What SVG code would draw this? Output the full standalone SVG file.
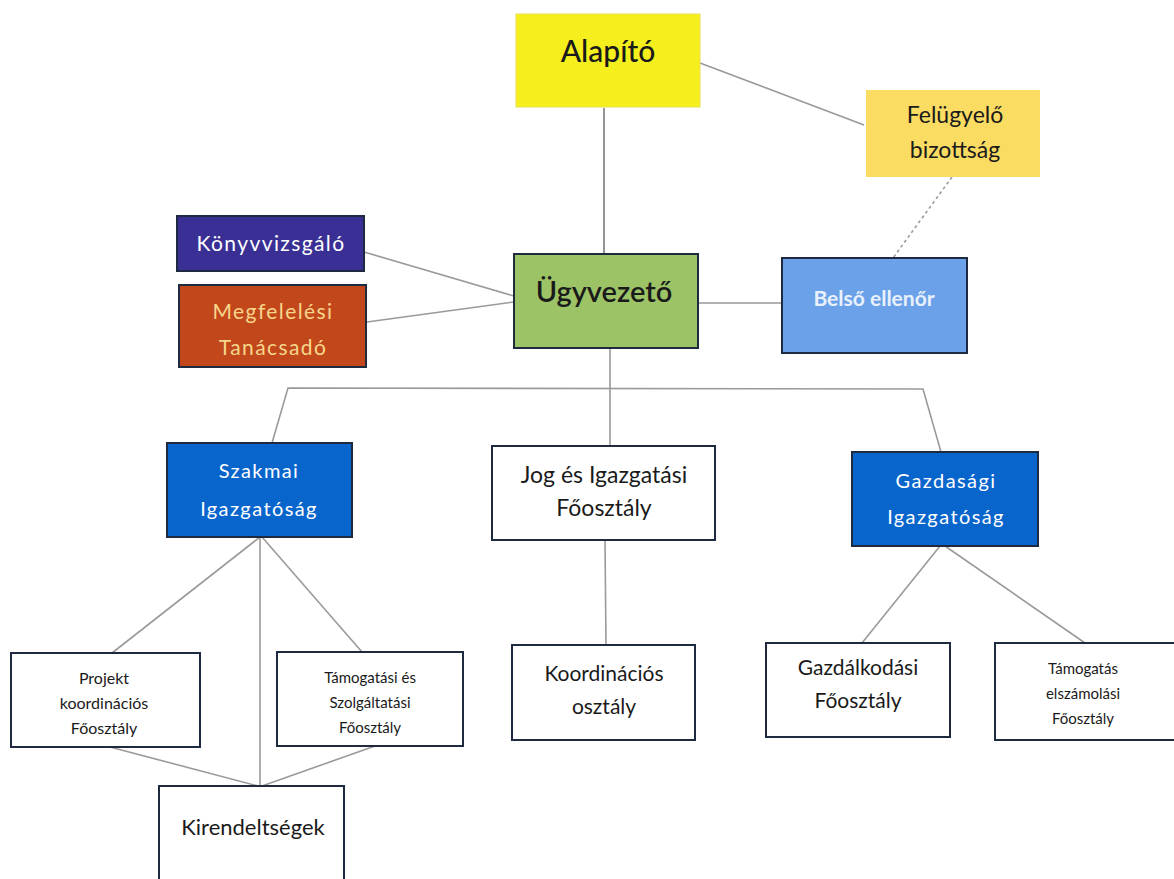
<svg xmlns="http://www.w3.org/2000/svg" width="1174" height="879" viewBox="0 0 1174 879">
<style>
  .ln{stroke:#9a9a9a;stroke-width:1.6;fill:none}
  .dk{stroke:#7a7a7a}
  .dot{stroke-dasharray:3 3}
  .box{stroke:#1e2a40;stroke-width:2}
  .wb{fill:#ffffff}
  .t{font-family:Lato,"Open Sans","Liberation Sans",sans-serif;text-anchor:middle;fill:#1a1a1a}
  .w{fill:#ffffff}
  .sp{letter-spacing:1.4px}
</style>
<rect width="1174" height="879" fill="#ffffff"/>
<g id="connectors">
  <line class="ln dk" x1="604" y1="108" x2="604" y2="254"/>
  <line class="ln" x1="700" y1="63" x2="864" y2="125"/>
  <line class="ln dot" x1="952" y1="177" x2="893" y2="258"/>
  <line class="ln" x1="364" y1="252" x2="514" y2="296"/>
  <line class="ln" x1="367" y1="322" x2="514" y2="302"/>
  <line class="ln" x1="698" y1="303" x2="782" y2="303"/>
  <line class="ln" x1="610" y1="348" x2="610" y2="446"/>
  <polyline class="ln" points="272,443 288,388 923,389 941,452"/>
  <line class="ln" x1="260" y1="537" x2="112" y2="653"/>
  <line class="ln" x1="260" y1="537" x2="260" y2="786"/>
  <line class="ln" x1="262" y1="537" x2="362" y2="652"/>
  <line class="ln" x1="110" y1="747" x2="258" y2="786"/>
  <line class="ln" x1="375" y1="746" x2="262" y2="786"/>
  <line class="ln" x1="605" y1="540" x2="606" y2="645"/>
  <line class="ln" x1="940" y1="546" x2="862" y2="643"/>
  <line class="ln" x1="945" y1="546" x2="1085" y2="643"/>
</g>
<g id="alapito">
  <rect x="516" y="14" width="184" height="93" fill="#f6ef1e" stroke="#e8e050" stroke-width="1"/>
  <text class="t" x="608" y="62" font-size="30" font-weight="500">Alapító</text>
</g>
<g id="felugyelo">
  <rect x="866" y="90" width="174" height="87" fill="#fbdc62"/>
  <text class="t" x="955" y="123" font-size="23">Felügyelő</text>
  <text class="t" x="955" y="158" font-size="23">bizottság</text>
</g>
<g id="konyvvizsgalo">
  <rect class="box" x="177" y="216" width="187" height="55" fill="#3a2f95"/>
  <text class="t w sp" x="271" y="251" font-size="21">Könyvvizsgáló</text>
</g>
<g id="megfelelesi">
  <rect class="box" x="179" y="285" width="187" height="82" fill="#c2481c"/>
  <text class="t sp" x="273" y="319" font-size="21" style="fill:#f7d68c">Megfelelési</text>
  <text class="t sp" x="273" y="355" font-size="21" style="fill:#f7d68c">Tanácsadó</text>
</g>
<g id="ugyvezeto">
  <rect class="box" x="514" y="254" width="184" height="94" fill="#9cc466"/>
  <text class="t" x="604" y="302" font-size="29" font-weight="600">Ügyvezető</text>
</g>
<g id="belso">
  <rect class="box" x="782" y="258" width="185" height="95" fill="#6aa1e8"/>
  <text class="t" x="874" y="306" font-size="21" font-weight="bold" style="fill:#e8f0fb">Belső ellenőr</text>
</g>
<g id="szakmai">
  <rect class="box" x="167" y="443" width="185" height="94" fill="#0865cc"/>
  <text class="t w sp" x="259" y="478" font-size="20">Szakmai</text>
  <text class="t w sp" x="259" y="516" font-size="20">Igazgatóság</text>
</g>
<g id="jog">
  <rect class="box wb" x="492" y="446" width="223" height="94"/>
  <text class="t" x="604" y="483" font-size="23">Jog és Igazgatási</text>
  <text class="t" x="604" y="516" font-size="23">Főosztály</text>
</g>
<g id="gazdasagi">
  <rect class="box" x="852" y="452" width="186" height="94" fill="#0865cc"/>
  <text class="t w sp" x="946" y="488" font-size="20">Gazdasági</text>
  <text class="t w sp" x="946" y="524" font-size="20">Igazgatóság</text>
</g>
<g id="projekt">
  <rect class="box wb" x="11" y="653" width="189" height="94"/>
  <text class="t" x="104" y="684" font-size="16">Projekt</text>
  <text class="t" x="104" y="709" font-size="16">koordinációs</text>
  <text class="t" x="104" y="734" font-size="16">Főosztály</text>
</g>
<g id="tamogatasi">
  <rect class="box wb" x="277" y="652" width="186" height="94"/>
  <text class="t" x="370" y="683" font-size="15">Támogatási és</text>
  <text class="t" x="370" y="708" font-size="15">Szolgáltatási</text>
  <text class="t" x="370" y="733" font-size="15">Főosztály</text>
</g>
<g id="kirendeltsegek">
  <rect class="box wb" x="159" y="786" width="185" height="100"/>
  <text class="t" x="253" y="835" font-size="22">Kirendeltségek</text>
</g>
<g id="koordinacios">
  <rect class="box wb" x="512" y="645" width="183" height="95"/>
  <text class="t" x="604" y="681" font-size="21">Koordinációs</text>
  <text class="t" x="604" y="714" font-size="21">osztály</text>
</g>
<g id="gazdalkodasi">
  <rect class="box wb" x="766" y="643" width="184" height="94"/>
  <text class="t" x="858" y="675" font-size="21">Gazdálkodási</text>
  <text class="t" x="858" y="708" font-size="21">Főosztály</text>
</g>
<g id="tamogatas-elszamolasi">
  <rect class="box wb" x="995" y="643" width="185" height="97"/>
  <text class="t" x="1083" y="674" font-size="15">Támogatás</text>
  <text class="t" x="1083" y="699" font-size="15">elszámolási</text>
  <text class="t" x="1083" y="724" font-size="15">Főosztály</text>
</g>
</svg>
